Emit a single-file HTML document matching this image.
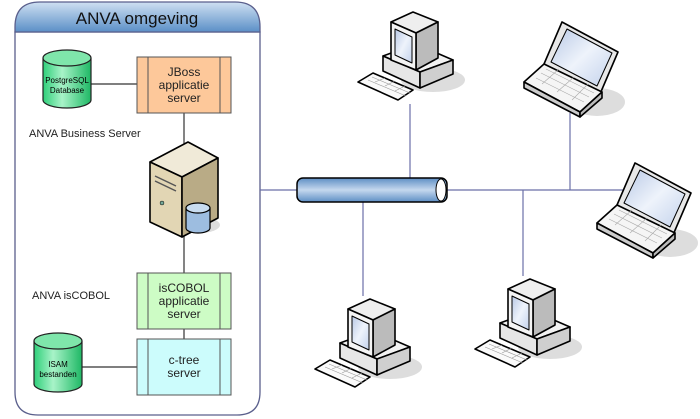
<!DOCTYPE html>
<html><head><meta charset="utf-8"><style>
html,body{margin:0;padding:0;background:#fff;width:700px;height:419px;overflow:hidden}
svg text{font-family:"Liberation Sans",sans-serif}
</style></head><body>
<svg width="700" height="419" viewBox="0 0 700 419" xmlns="http://www.w3.org/2000/svg">
<defs>
<linearGradient id="hdr" x1="0" y1="0" x2="0" y2="1"><stop offset="0" stop-color="#cfe0f2"/><stop offset="1" stop-color="#5b8fc7"/></linearGradient>
<linearGradient id="pipe" x1="0" y1="0" x2="0" y2="1"><stop offset="0" stop-color="#5d8ec4"/><stop offset="0.5" stop-color="#c5d8ee"/><stop offset="1" stop-color="#5d8ec4"/></linearGradient>
<linearGradient id="cyl" x1="0" y1="0" x2="1" y2="0"><stop offset="0" stop-color="#2fcf7a"/><stop offset="0.4" stop-color="#a8f3c8"/><stop offset="1" stop-color="#1fb865"/></linearGradient>
<linearGradient id="scr" x1="0" y1="0" x2="1" y2="1"><stop offset="0" stop-color="#b9c9e6"/><stop offset="0.5" stop-color="#eef3fb"/><stop offset="1" stop-color="#c3d2ec"/></linearGradient>
<g id="pc" stroke="#000" stroke-width="1.6" stroke-linejoin="round">
<ellipse cx="75" cy="72" rx="32" ry="12" fill="#ddd" stroke="none"/>
<polygon points="25,48 58,36 95,52 62,64" fill="#f2f2f2"/>
<polygon points="25,48 62,64 62,80 25,63" fill="#e6e6e6"/>
<polygon points="62,64 95,52 95,66 62,80" fill="#cfcfcf"/>
<polygon points="33,14 55,4 80,14 58,25" fill="#eee"/>
<polygon points="58,25 80,14 80,50 58,62" fill="#bbb"/>
<polygon points="33,14 58,25 58,62 33,52" fill="#f4f4f4"/>
<polygon points="37,21 54,29 54,55 37,47" fill="url(#scr)" stroke-width="1"/>
<polygon points="0,74 15,65 55,82 40,92" fill="#fafafa"/>
<path d="M10,72 L48,88 M14,69 L52,85 M17,74 L27,70 M27,78 L37,73 M37,83 L47,78" stroke="#999" stroke-width="0.6" fill="none"/>
</g>
<g id="lap" stroke="#000" stroke-width="1.6" stroke-linejoin="round">
<ellipse cx="75" cy="80" rx="28" ry="14" fill="#ddd" stroke="none"/>
<polygon points="40,0 96,30 78,72 22,42" fill="#e8e8e8"/>
<polygon points="45,7 90,31 75,64 29,40" fill="url(#scr)" stroke-width="1"/>
<polygon points="2,60 22,42 80,70 58,90" fill="#f5f5f5"/>
<polygon points="2,60 58,90 58,95 2,66" fill="#ccc"/>
<polygon points="58,90 80,70 80,76 58,95" fill="#bbb"/>
<path d="M14,56 L62,80 M19,51 L67,75 M24,47 L72,71 M20,62 L37,47 M35,70 L52,55 M50,78 L66,62" stroke="#aaa" stroke-width="0.6" fill="none"/>
</g>
</defs>
<!-- container -->
<path d="M15,32 L15,392 Q15,415 38,415 L237,415 Q260,415 260,392 L260,32 Z" fill="#fff" stroke="#5a5f8c" stroke-width="1.3"/>
<path d="M15,32 L15,27 Q15,2 40,2 L235,2 Q260,2 260,27 L260,32 Z" fill="url(#hdr)" stroke="#5a5f8c" stroke-width="1.3"/>
<text x="137" y="24" font-size="17" text-anchor="middle" fill="#111">ANVA omgeving</text>
<!-- internal lines -->
<g stroke="#333" stroke-width="1.2">
<line x1="91" y1="84" x2="137" y2="84"/>
<line x1="184" y1="113" x2="184" y2="145"/>
<line x1="184" y1="232" x2="184" y2="273"/>
<line x1="184" y1="329" x2="184" y2="339"/>
<line x1="81" y1="367" x2="137" y2="367"/>
</g>
<!-- cylinders -->
<g stroke="#222" stroke-width="1.2">
<path d="M43,58 L43,100 A24,8 0 0 0 91,100 L91,58" fill="url(#cyl)"/>
<ellipse cx="67" cy="58" rx="24" ry="8" fill="#7fe6ab"/>
<path d="M34,341 L34,384 A24,8 0 0 0 82,384 L82,341" fill="url(#cyl)"/>
<ellipse cx="58" cy="341" rx="24" ry="8" fill="#7fe6ab"/>
</g>
<text x="67" y="83" font-size="8" text-anchor="middle">PostgreSQL</text>
<text x="67" y="93" font-size="8" text-anchor="middle">Database</text>
<text x="58" y="367" font-size="8" text-anchor="middle">ISAM</text>
<text x="58" y="377" font-size="8" text-anchor="middle">bestanden</text>
<!-- boxes -->
<g stroke="#555" stroke-width="1">
<rect x="137" y="57" width="94" height="56" fill="#fdc89a"/>
<line x1="148" y1="57" x2="148" y2="113"/><line x1="220" y1="57" x2="220" y2="113"/>
<rect x="137" y="273" width="94" height="56" fill="#cdfcc5"/>
<line x1="148" y1="273" x2="148" y2="329"/><line x1="220" y1="273" x2="220" y2="329"/>
<rect x="137" y="339" width="94" height="56" fill="#ccfcfc"/>
<line x1="148" y1="339" x2="148" y2="395"/><line x1="220" y1="339" x2="220" y2="395"/>
</g>
<g font-size="12" text-anchor="middle" fill="#222">
<text x="184" y="76">JBoss</text><text x="184" y="89">applicatie</text><text x="184" y="102">server</text>
<text x="184" y="292">isCOBOL</text><text x="184" y="305">applicatie</text><text x="184" y="318">server</text>
<text x="184" y="364">c-tree</text><text x="184" y="377">server</text>
</g>
<text x="29" y="137" font-size="11" fill="#222">ANVA Business Server</text>
<text x="32" y="299" font-size="11" fill="#222">ANVA isCOBOL</text>
<!-- server -->
<g stroke="#000" stroke-width="1.6" stroke-linejoin="round">
<ellipse cx="200" cy="225" rx="20" ry="8" fill="#ddd" stroke="none"/>
<polygon points="150,162 188,142 218,158 182,177" fill="#f0ead8"/>
<polygon points="150,162 182,177 182,237 150,222" fill="#e2d6b4"/>
<polygon points="182,177 218,158 218,218 182,237" fill="#b9ab86"/>
<path d="M155,176 L176,186 M155,181 L176,191" stroke="#555" stroke-width="1.5"/>
<circle cx="162" cy="203" r="2" fill="#7a9" stroke-width="0.5"/>
<path d="M186,208 L186,228 A12,5 0 0 0 210,228 L210,208" fill="#9dbde0" stroke-width="1.2"/>
<ellipse cx="198" cy="208" rx="12" ry="5" fill="#c8dcf0" stroke-width="1.2"/>
</g>
<!-- network lines -->
<g stroke="#6a6fa8" stroke-width="1.2">
<line x1="260" y1="190" x2="630" y2="190"/>
<line x1="410" y1="104" x2="410" y2="178"/>
<line x1="363" y1="202" x2="363" y2="296"/>
<line x1="570" y1="113" x2="570" y2="190"/>
<line x1="523" y1="190" x2="523" y2="276"/>
</g>
<!-- pipe -->
<rect x="297" y="178" width="150" height="24" rx="6" fill="url(#pipe)" stroke="#000" stroke-width="1.5"/>
<ellipse cx="441" cy="190" rx="5" ry="11" fill="#fff" stroke="#000" stroke-width="1"/>
<!-- devices -->
<use href="#pc" x="358" y="8"/>
<use href="#pc" x="315" y="295"/>
<use href="#pc" x="475" y="275"/>
<use href="#lap" x="522" y="22"/>
<use href="#lap" x="595" y="163"/>
</svg>
</body></html>
